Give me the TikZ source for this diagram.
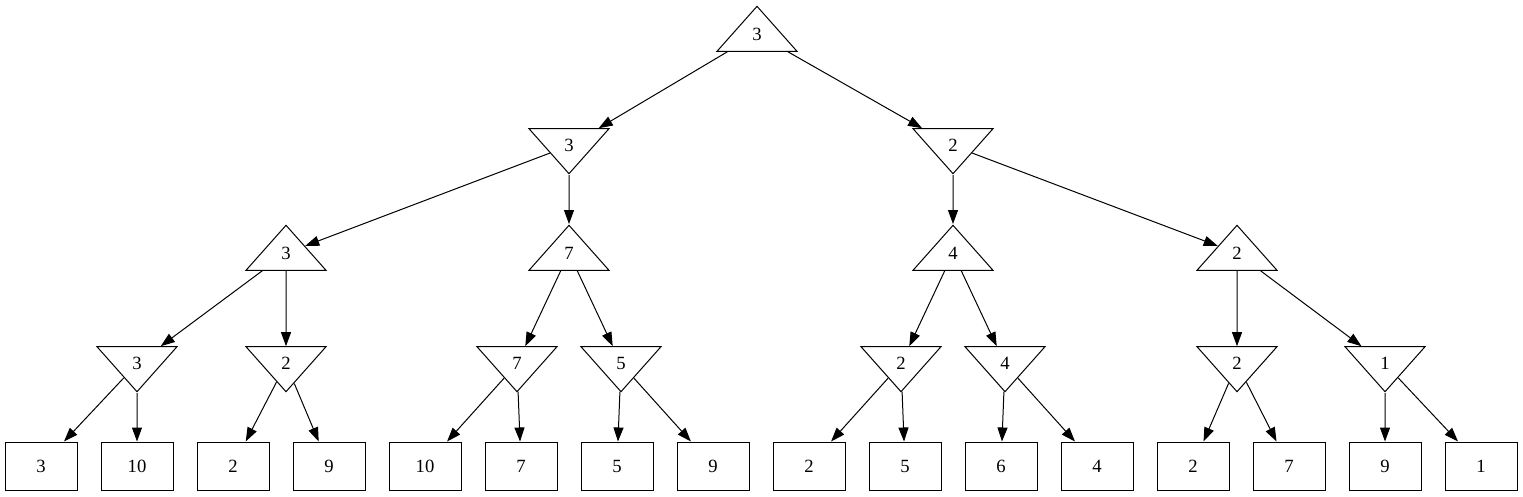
\documentclass[tikz,border=0pt]{standalone}
\usepackage{fontspec}
\setmainfont{Liberation Serif}
\usetikzlibrary{arrows.meta, shapes.geometric}

\begin{document}
\begin{tikzpicture}[
  x=1pt, y=-1pt,
  every node/.style={
    font=\fontsize{18.67}{20}\selectfont,
    inner sep=0pt,
    line width=1pt,
  },
  tri/.style={
    draw,
    isosceles triangle,
    isosceles triangle stretches,
    minimum width=80pt,
    minimum height=45pt,
    anchor=apex,
  },
  maxnode/.style={
    tri,
    shape border rotate=90,
  },
  minnode/.style={
    tri,
    shape border rotate=-90,
  },
  leaf/.style={
    draw,
    rectangle,
    minimum width=72pt,
    minimum height=48pt,
  },
  goes/.style={
    -{Triangle[length=14pt, width=10pt]},
    line width=1pt,
  },
]
\useasboundingbox (0,0) rectangle (1523,496);

% max level (root)
\node(Root)[maxnode] at (757,5) {3};

% min level
\node(A)[minnode] at (569,175) {3};
\node(B)[minnode] at (953,175) {2};

% max level
\node(AA)[maxnode] at (286,224) {3};
\node(AB)[maxnode] at (569,224) {7};
\node(BA)[maxnode] at (953,224) {4};
\node(BB)[maxnode] at (1237,224) {2};

% min level
\node(AAA)[minnode] at (137,393) {3};
\node(AAB)[minnode] at (286,393) {2};
\node(ABA)[minnode] at (517,393) {7};
\node(ABB)[minnode] at (621,393) {5};
\node(BAA)[minnode] at (901,393) {2};
\node(BAB)[minnode] at (1005,393) {4};
\node(BBA)[minnode] at (1237,393) {2};
\node(BBB)[minnode] at (1385,393) {1};

% leaves
\foreach \val [count=\i] in {3, 10, 2, 9, 10, 7, 5, 9, 2, 5, 6, 4, 2, 7, 9, 1}{
  \node(L\i)[leaf] at ({41+96*(\i-1)},466) {\val};
}

\draw[goes] (Root) -- (A);
\draw[goes] (Root) -- (B);

\draw[goes] (A) -- (AA);
\draw[goes] (A) -- (AB);
\draw[goes] (B) -- (BA);
\draw[goes] (B) -- (BB);

\draw[goes] (AA) -- (AAA);
\draw[goes] (AA) -- (AAB);
\draw[goes] (AB) -- (ABA);
\draw[goes] (AB) -- (ABB);
\draw[goes] (BA) -- (BAA);
\draw[goes] (BA) -- (BAB);
\draw[goes] (BB) -- (BBA);
\draw[goes] (BB) -- (BBB);

\foreach \from/\a/\b in {AAA/1/2, AAB/3/4, ABA/5/6, ABB/7/8, BAA/9/10, BAB/11/12, BBA/13/14, BBB/15/16}{
  \draw[goes] (\from) -- (L\a);
  \draw[goes] (\from) -- (L\b);
}

\end{tikzpicture}
\end{document}
